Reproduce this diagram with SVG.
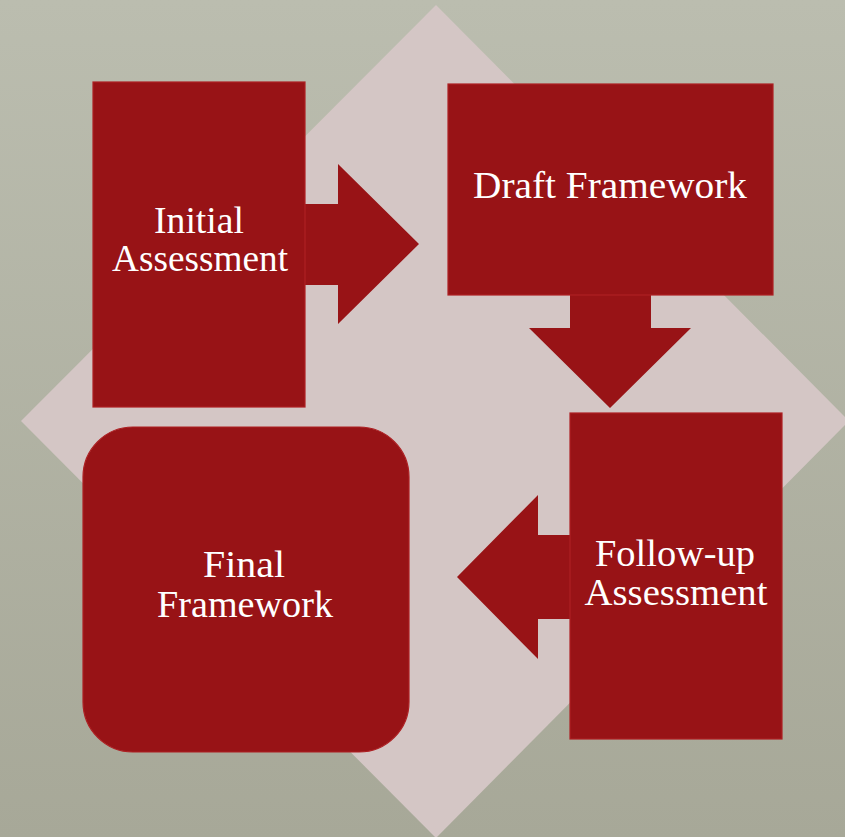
<svg xmlns="http://www.w3.org/2000/svg" width="845" height="837" viewBox="0 0 845 837">
  <defs>
    <linearGradient id="bg" x1="0" y1="0" x2="0" y2="1">
      <stop offset="0" stop-color="#bbbdaf"/>
      <stop offset="1" stop-color="#a7a898"/>
    </linearGradient>
    <style>
      .box { fill: #981316; stroke: #ad2023; stroke-width: 1.2; }
      .arrow { fill: #981316; }
      .lbl { font-family: "Liberation Serif", "DejaVu Serif", serif; font-size: 37px; fill: #ffffff; text-anchor: middle; }
    </style>
  </defs>
  <rect x="0" y="0" width="845" height="837" fill="url(#bg)"/>
  <polygon points="436,5 849,421 436,838 21,421" fill="#d4c6c5"/>

  <g id="connectors">
    <polygon class="arrow" points="305,204 338,204 338,164 419,244 338,324 338,285 305,285"/>
    <polygon class="arrow" points="570,295 651,295 651,328 691,328 610,408 529,328 570,328"/>
    <polygon class="arrow" points="570,535 538,535 538,495 457,577 538,659 538,619 570,619"/>
  </g>

  <g id="initial-assessment">
    <rect class="box" x="93" y="82" width="212" height="325"/>
    <text class="lbl" x="199" y="233" textLength="90" lengthAdjust="spacingAndGlyphs">Initial</text>
    <text class="lbl" x="200" y="271" textLength="176" lengthAdjust="spacingAndGlyphs">Assessment</text>
  </g>

  <g id="draft-framework">
    <rect class="box" x="448" y="84" width="325" height="211"/>
    <text class="lbl" x="610" y="198" textLength="274" lengthAdjust="spacingAndGlyphs">Draft Framework</text>
  </g>

  <g id="follow-up-assessment">
    <rect class="box" x="570" y="413" width="212" height="326"/>
    <text class="lbl" x="675" y="566" textLength="160" lengthAdjust="spacingAndGlyphs">Follow-up</text>
    <text class="lbl" x="676" y="605" textLength="183" lengthAdjust="spacingAndGlyphs">Assessment</text>
  </g>

  <g id="final-framework">
    <rect class="box" x="83" y="427" width="326" height="325" rx="50" ry="50"/>
    <text class="lbl" x="244" y="577" textLength="82" lengthAdjust="spacingAndGlyphs">Final</text>
    <text class="lbl" x="245" y="617" textLength="176" lengthAdjust="spacingAndGlyphs">Framework</text>
  </g>
</svg>
